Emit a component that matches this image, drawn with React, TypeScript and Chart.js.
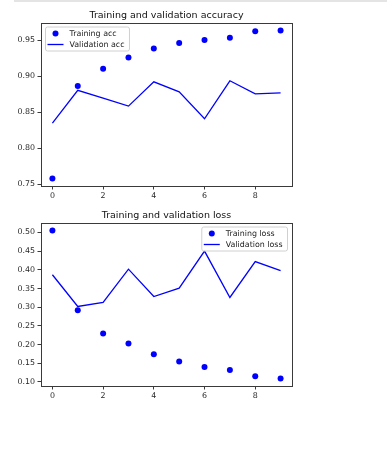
import React, { useEffect, useRef } from "react";
import { Chart, registerables } from "chart.js";

Chart.register(...registerables);

const epochs = [0, 1, 2, 3, 4, 5, 6, 7, 8, 9];
const trainingAcc = [0.758, 0.8865, 0.9106, 0.9264, 0.9389, 0.9463, 0.9504, 0.9536, 0.9629, 0.9639];
const validationAcc = [0.8351, 0.8806, 0.8699, 0.8587, 0.8925, 0.8786, 0.8411, 0.8939, 0.8758, 0.8772];
const trainingLoss = [0.5053, 0.292, 0.2295, 0.2027, 0.174, 0.1545, 0.14, 0.132, 0.115, 0.109];
const validationLoss = [0.3867, 0.302, 0.3125, 0.4017, 0.3285, 0.351, 0.45, 0.3259, 0.422, 0.398];
const xTickValues = [0, 2, 4, 6, 8];
const accTickValues = [0.75, 0.8, 0.85, 0.9, 0.95];
const lossTickValues = [0.1, 0.15, 0.2, 0.25, 0.3, 0.35, 0.4, 0.45, 0.5];

const FONT = "'DejaVu Sans', sans-serif";
const BLUE = "#0000ff";

function pad(values: number[], frac = 0.05) {
  const lo = Math.min(...values);
  const hi = Math.max(...values);
  const r = hi - lo;
  return { min: lo - r * frac, max: hi + r * frac };
}

const decorPlugin = {
  id: "decor",
  afterDraw(chart: any, _args: any, opts: any) {
    const { ctx, chartArea: a } = chart;
    ctx.save();
    // frame
    ctx.strokeStyle = "#3a3a3a";
    ctx.lineWidth = 1;
    ctx.strokeRect(Math.round(a.left) + 0.5, Math.round(a.top) + 0.5, Math.round(a.right - a.left), Math.round(a.bottom - a.top));
    // title
    ctx.fillStyle = "#111";
    ctx.font = `9.5px ${FONT}`;
    ctx.textAlign = "center";
    ctx.textBaseline = "alphabetic";
    ctx.fillText(opts.title, (a.left + a.right) / 2, a.top - 5);
    // legend
    ctx.font = `7.9px ${FONT}`;
    const labels: string[] = opts.labels;
    const tw = Math.max(...labels.map((l) => ctx.measureText(l).width));
    const w = 24 + tw + 5;
    const h = 24;
    const left = opts.corner === "left" ? a.left + 4.5 : a.right - 4.5 - w;
    const top = a.top + 4;
    ctx.beginPath();
    const r = 2;
    ctx.moveTo(left + r, top);
    ctx.lineTo(left + w - r, top);
    ctx.quadraticCurveTo(left + w, top, left + w, top + r);
    ctx.lineTo(left + w, top + h - r);
    ctx.quadraticCurveTo(left + w, top + h, left + w - r, top + h);
    ctx.lineTo(left + r, top + h);
    ctx.quadraticCurveTo(left, top + h, left, top + h - r);
    ctx.lineTo(left, top + r);
    ctx.quadraticCurveTo(left, top, left + r, top);
    ctx.closePath();
    ctx.fillStyle = "rgba(255,255,255,0.85)";
    ctx.fill();
    ctx.strokeStyle = "#d0d0d0";
    ctx.lineWidth = 1;
    ctx.stroke();
    const y1 = top + 6.5;
    const y2 = top + 17.5;
    ctx.fillStyle = BLUE;
    ctx.beginPath();
    ctx.arc(left + 10, y1, 3, 0, Math.PI * 2);
    ctx.fill();
    ctx.strokeStyle = BLUE;
    ctx.lineWidth = 1.3;
    ctx.beginPath();
    ctx.moveTo(left + 2, y2);
    ctx.lineTo(left + 18, y2);
    ctx.stroke();
    ctx.fillStyle = "#222";
    ctx.textAlign = "left";
    ctx.textBaseline = "middle";
    ctx.fillText(labels[0], left + 24, y1);
    ctx.fillText(labels[1], left + 24, y2);
    ctx.restore();
  },
};

function buildConfig(
  train: number[],
  val: number[],
  yTicks: number[],
  title: string,
  labels: string[],
  corner: string
): any {
  const yr = pad([...train, ...val]);
  const xr = pad(epochs);
  const tickFont = { family: FONT, size: 7.9 };
  return {
    type: "scatter",
    data: {
      datasets: [
        {
          label: labels[0],
          data: epochs.map((x, i) => ({ x, y: train[i] })),
          backgroundColor: BLUE,
          borderWidth: 0,
          pointRadius: 3,
          showLine: false,
        },
        {
          label: labels[1],
          data: epochs.map((x, i) => ({ x, y: val[i] })),
          borderColor: BLUE,
          borderWidth: 1.3,
          pointRadius: 0,
          showLine: true,
          tension: 0,
        },
      ],
    },
    options: {
      animation: false,
      responsive: false,
      events: [],
      layout: { padding: { left: 0, top: 23, right: 95, bottom: 0 } },
      plugins: {
        legend: { display: false },
        title: { display: false },
        tooltip: { enabled: false },
        decor: { title, labels, corner },
      },
      scales: {
        x: {
          type: "linear",
          min: xr.min,
          max: xr.max,
          afterBuildTicks: (s: any) => {
            s.ticks = xTickValues.map((v) => ({ value: v }));
          },
          afterFit: (s: any) => {
            s.height = 14;
          },
          grid: { display: true, drawOnChartArea: false, drawTicks: true, tickLength: 3.5, tickColor: "#3a3a3a" },
          border: { display: false },
          ticks: {
            padding: 2,
            maxRotation: 0,
            autoSkip: false,
            font: tickFont,
            color: "#2a2a2a",
            callback: (v: any) => String(v),
          },
        },
        y: {
          type: "linear",
          min: yr.min,
          max: yr.max,
          afterBuildTicks: (s: any) => {
            s.ticks = yTicks.map((v) => ({ value: v }));
          },
          afterFit: (s: any) => {
            s.width = 41;
          },
          grid: { display: true, drawOnChartArea: false, drawTicks: true, tickLength: 3.5, tickColor: "#3a3a3a" },
          border: { display: false },
          ticks: {
            padding: 2.5,
            autoSkip: false,
            font: tickFont,
            color: "#2a2a2a",
            callback: (v: any) => Number(v).toFixed(2),
          },
        },
      },
    },
    plugins: [decorPlugin],
  };
}

function ChartCanvas({ config, top }: { config: any; top: number }) {
  const ref = useRef<HTMLCanvasElement | null>(null);
  useEffect(() => {
    if (!ref.current) return;
    const chart = new Chart(ref.current, config);
    return () => chart.destroy();
  }, [config]);
  return (
    <canvas
      ref={ref}
      width={387}
      height={200}
      style={{ position: "absolute", left: 0, top, width: 387, height: 200 }}
    />
  );
}

const accConfig = buildConfig(
  trainingAcc,
  validationAcc,
  accTickValues,
  "Training and validation accuracy",
  ["Training acc", "Validation acc"],
  "left"
);
const lossConfig = buildConfig(
  trainingLoss,
  validationLoss,
  lossTickValues,
  "Training and validation loss",
  ["Training loss", "Validation loss"],
  "right"
);

export default function App() {
  return (
    <div style={{ position: "absolute", left: 0, top: 0, width: 387, height: 454, background: "#fff", overflow: "hidden" }}>
      <div style={{ position: "absolute", left: 14, top: 0, width: 373, height: 2, background: "#e4e4e4" }} />
      <ChartCanvas config={accConfig} top={0} />
      <ChartCanvas config={lossConfig} top={200} />
    </div>
  );
}
